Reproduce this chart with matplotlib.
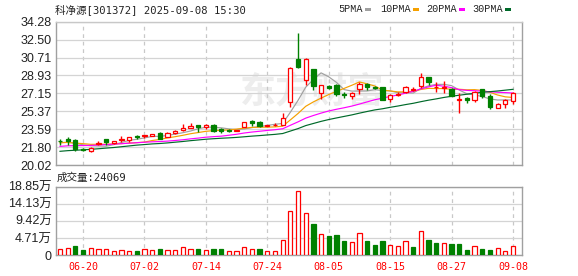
import matplotlib
matplotlib.use("Agg")
import matplotlib.pyplot as plt
from matplotlib.patches import Rectangle
import numpy as np
import pandas as pd

# ---------------- data ----------------
dates = ["06-20", "07-02", "07-14", "07-24", "08-05", "08-15", "08-27", "09-08"]
date_idx = [3, 11, 19, 27, 35, 43, 51, 59]

opens = [22.42, 22.64, 22.55, 21.62, 21.45, 22.10, 22.60, 22.20, 22.55, 22.52,
         22.86, 22.95, 22.92, 23.25, 22.85, 23.20, 23.50, 23.75, 24.00, 23.80,
         24.00, 23.60, 23.48, 23.42, 23.85, 24.40, 24.30, 23.95, 23.98, 24.05,
         26.25, 30.60, 28.50, 29.55, 27.15, 27.90, 28.00, 27.05, 26.92, 27.60,
         28.05, 27.75, 27.75, 26.58, 27.00, 27.30, 27.50, 27.90, 28.80, 27.75,
         27.65, 27.55, 26.50, 26.65, 26.50, 27.58, 26.90, 25.72, 26.05, 26.40]
highs = [22.60, 22.78, 22.65, 21.75, 21.78, 22.40, 22.62, 22.42, 22.90, 22.80,
         23.00, 23.02, 23.14, 23.35, 23.30, 23.50, 24.10, 24.15, 24.05, 24.10,
         24.10, 23.70, 23.60, 23.55, 24.30, 24.45, 24.35, 24.05, 24.15, 25.20,
         29.75, 33.20, 30.65, 29.60, 28.00, 28.00, 28.05, 27.30, 27.30, 28.30,
         28.15, 27.85, 27.80, 27.05, 27.25, 27.90, 27.75, 29.15, 28.82, 28.30,
         28.40, 27.70, 27.15, 26.80, 27.40, 27.60, 27.05, 26.20, 26.55, 27.25]
lows = [22.00, 21.98, 21.45, 21.45, 21.28, 22.00, 22.05, 22.15, 22.35, 22.30,
        22.65, 22.70, 22.90, 22.60, 22.80, 23.15, 23.45, 23.70, 23.35, 23.60,
        23.35, 23.25, 23.30, 23.40, 23.80, 23.95, 23.85, 23.90, 23.95, 24.00,
        25.75, 29.70, 28.00, 27.50, 26.60, 27.60, 26.90, 26.70, 26.60, 27.05,
        27.50, 27.55, 26.45, 26.30, 26.85, 27.20, 27.35, 27.70, 28.00, 27.30,
        27.15, 26.90, 25.20, 26.15, 26.25, 26.65, 25.60, 25.70, 25.65, 26.10]
closes = [22.36, 22.44, 21.60, 21.55, 21.72, 22.25, 22.32, 22.38, 22.62, 22.78,
          22.80, 23.00, 23.12, 22.65, 23.25, 23.45, 23.70, 23.95, 23.80, 24.00,
          23.45, 23.40, 23.42, 23.50, 24.25, 24.15, 23.90, 24.00, 24.05, 24.70,
          29.70, 29.80, 30.55, 27.90, 28.00, 27.72, 27.05, 26.95, 27.15, 28.05,
          27.75, 27.70, 26.50, 27.00, 27.10, 27.75, 27.55, 28.80, 28.30, 27.82,
          27.75, 26.92, 26.60, 26.45, 27.25, 26.92, 25.75, 26.06, 26.50, 27.20]
# closes before the visible window (needed for the moving averages)
prior_closes = [20.5, 20.3, 20.4, 20.2, 20.5, 20.4, 20.6, 20.3, 20.4, 20.4,
                21.3, 21.2, 21.4, 21.5, 21.3, 21.6, 21.5, 21.7, 21.8, 21.9,
                22.0, 22.3, 22.1, 22.4, 22.2, 22.3, 22.1, 22.3, 22.2]

# volume in 万 (10k shares)
volumes = [1.66, 2.02, 2.48, 1.38, 1.84, 1.66, 1.66, 1.10, 1.29, 1.10,
           1.10, 1.66, 1.38, 1.66, 1.38, 1.38, 2.12, 1.66, 1.66, 1.38,
           1.66, 1.66, 1.10, 1.20, 2.12, 1.66, 1.66, 1.10, 1.10, 4.14,
           12.14, 17.66, 11.60, 8.56, 5.80, 5.24, 5.52, 3.86, 3.50, 5.98,
           3.86, 2.76, 3.86, 2.67, 2.39, 3.77, 2.20, 6.62, 4.14, 3.31,
           3.22, 3.04, 3.04, 1.38, 2.39, 1.66, 1.38, 1.93, 1.01, 2.41]
vol_up = [1, 1, 0, 0, 1, 1, 1, 1, 1, 1,
          0, 1, 1, 0, 1, 1, 1, 1, 0, 1,
          0, 0, 1, 1, 1, 1, 0, 1, 1, 1,
          1, 1, 1, 0, 1, 0, 0, 0, 1, 1,
          0, 0, 0, 1, 1, 1, 0, 1, 0, 0,
          1, 0, 0, 0, 1, 0, 0, 1, 1, 1]

price_ticks = ["34.28", "32.50", "30.71", "28.93", "27.15", "25.37", "23.59", "21.80", "20.02"]
vol_ticks = ["18.85万", "14.13万", "9.42万", "4.71万", "0"]
vol_tick_vals = [18.85, 14.13, 9.42, 4.71, 0]

title = "科净源[301372] 2025-09-08 15:30"
vol_label = "成交量:24069"
watermark = "东方财富"
ma_periods = [5, 10, 20, 30]
ma_names = ["5PMA", "10PMA", "20PMA", "30PMA"]
ma_colors = ["#a0a0a0", "#f5a000", "#ff00ff", "#006a2a"]

RED = "#ff0000"
GREEN = "#008000"

# ---------------- figure ----------------
W, H = 578, 276
fig = plt.figure(figsize=(W / 100, H / 100), dpi=100)
fig.patch.set_facecolor("white")

def axrect(l, t, r, b):
    return [l / W, 1 - b / H, (r - l) / W, (b - t) / H]

ax1 = fig.add_axes(axrect(56, 21.7, 522, 165))
ax2 = fig.add_axes(axrect(56, 186.7, 522, 255))

n = len(closes)
x = np.arange(n)
xlim = (-0.52, 60.17)
bw = 0.56

sans = ["Liberation Sans", "Noto Sans CJK SC"]
mono = ["DejaVu Sans Mono", "Noto Sans CJK SC"]

for ax in (ax1, ax2):
    ax.set_xlim(*xlim)
    ax.set_facecolor("white")
    for s in ax.spines.values():
        s.set_color("#a0a0a0")
        s.set_linewidth(1.0)
    ax.tick_params(length=0)
    for di in date_idx:
        ax.axvline(di, color="#c8c8c8", lw=0.9, ls=(0, (3, 3)), zorder=0.5)

ax1.spines["top"].set_color("#c8c8c8")

# price panel
pt_vals = [float(t) for t in price_ticks]
ax1.set_ylim(20.02, 34.28)
ax1.set_yticks(pt_vals)
ax1.set_yticklabels(price_ticks, fontfamily=sans, fontsize=9, color="#222222")
ax1.tick_params(axis="y", pad=3)
ax1.set_xticks([])
for v in pt_vals:
    ax1.axhline(v, color="#d4d4d4", lw=0.9, zorder=0.5)

# watermark (figure coordinates)
fig.text(312 / W, 1 - 92 / H, watermark, fontsize=26, fontweight="bold",
         family=["Noto Sans CJK SC"], color="#ededed", ha="center", va="center", zorder=0.3)
ax1.patch.set_alpha(0.0)
ax1.set_zorder(1)

# moving averages
all_closes = pd.Series(prior_closes + closes)
npre = len(prior_closes)
for p, c in zip(ma_periods, ma_colors):
    ma = all_closes.rolling(p).mean().values[npre:]
    ax1.plot(x, ma, color=c, lw=0.85, zorder=2)

# candles
for i in range(n):
    o, h, l, c = opens[i], highs[i], lows[i], closes[i]
    up = c >= o
    col = RED if up else GREEN
    lo_b, hi_b = min(o, c), max(o, c)
    if up:
        ax1.vlines(i, hi_b, h, color=col, lw=1.0, zorder=3)
        ax1.vlines(i, l, lo_b, color=col, lw=1.0, zorder=3)
        ax1.bar(i, max(hi_b - lo_b, 0.001), bottom=lo_b, width=bw, facecolor="white",
                edgecolor=col, lw=0.9, zorder=4)
    else:
        ax1.vlines(i, l, h, color=col, lw=1.0, zorder=3)
        ax1.bar(i, max(hi_b - lo_b, 0.001), bottom=lo_b, width=bw, facecolor=col,
                edgecolor=col, lw=0.9, zorder=4)

# volume panel
ax2.set_ylim(0, 18.85)
ax2.set_yticks(vol_tick_vals)
ax2.set_yticklabels(vol_ticks, fontfamily=sans, fontsize=9, color="#222222")
ax2.tick_params(axis="y", pad=3)
for v in vol_tick_vals:
    ax2.axhline(v, color="#d4d4d4", lw=0.9, zorder=0.5)
for i in range(n):
    if vol_up[i]:
        ax2.bar(i, volumes[i], width=bw, facecolor="white", edgecolor=RED, lw=0.9, zorder=3)
    else:
        ax2.bar(i, volumes[i], width=bw, facecolor=GREEN, edgecolor=GREEN, lw=0.9, zorder=3)
ax2.set_xticks(date_idx)
ax2.set_xticklabels(dates, fontfamily=mono, fontsize=7.2, color=RED)
ax2.tick_params(axis="x", pad=5)

# texts
fig.text(55 / W, 1 - 9.5 / H, title, fontsize=7.6, family=mono, color="#222222",
         ha="left", va="center")
fig.text(57 / W, 1 - 178 / H, vol_label, fontsize=7.6, family=mono, color="#222222",
         ha="left", va="center")

leg_x = [338, 380, 426, 472]
sq_x = [365, 413, 459, 505]
for name, c, tx, sx in zip(ma_names, ma_colors, leg_x, sq_x):
    fig.text(tx / W, 1 - 9.5 / H, name, fontsize=7.3, family=["Liberation Mono"],
             color="#222222", ha="left", va="center")
    fig.patches.append(Rectangle((sx / W, 1 - 11 / H), 6 / W, 3.3 / H,
                                 transform=fig.transFigure, facecolor=c, edgecolor="none"))

fig.savefig("out.png", dpi=100)
